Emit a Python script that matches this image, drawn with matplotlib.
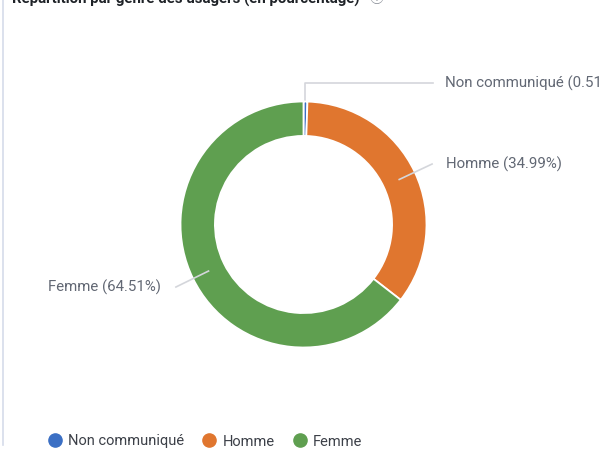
import numpy as np
import matplotlib.pyplot as plt
from matplotlib.lines import Line2D

plt.rcParams["font.family"] = ["Roboto", "DejaVu Sans"]

TITLE = "Répartition par genre des usagers (en pourcentage)"
labels = ["Non communiqué", "Homme", "Femme"]
shares = [0.51, 34.99, 64.51]
colors = ["#3b6fc4", "#e0762f", "#5f9f50"]

LABEL_FG = "#626874"
LEGEND_FG = "#3c4048"
LEADER = "#d4d6db"

W, H = 601, 450
fig = plt.figure(figsize=(W / 100, H / 100), dpi=100, facecolor="white")

# donut axes: centre (303.5, 224.5) px, radius 123 px
cx, cy, r = 303.5, 224.5, 123
ax = fig.add_axes([(cx - r) / W, (H - cy - r) / H, 2 * r / W, 2 * r / H])

wedges, _ = ax.pie(shares, colors=colors, startangle=90, counterclock=False,
                   radius=1, wedgeprops=dict(width=0.28, edgecolor="white", linewidth=1.3))
ax.set_xlim(-1, 1)
ax.set_ylim(-1, 1)
ax.set_aspect("equal")
ax.axis("off")

for w, lab, val in zip(wedges, labels, shares):
    mid = np.deg2rad((w.theta1 + w.theta2) / 2)
    ux, uy = np.cos(mid), np.sin(mid)
    txt = f"{lab} ({val:.2f}%)"
    if val < 2:
        # tiny slice: vertical leader then horizontal
        x0, y0 = ux * 0.86, uy * 0.86
        ytop = 1.15
        ax.plot([x0, x0, 1.05], [y0, ytop, ytop], color=LEADER, lw=1.2, clip_on=False, zorder=0)
        ax.text(1.15, ytop, txt, color=LABEL_FG, fontsize=10.8, va="center", ha="left", clip_on=False)
    else:
        r0, r1 = 0.86, 1.155
        ax.plot([ux * r0, ux * r1], [uy * r0, uy * r1], color=LEADER, lw=1.2, clip_on=False, zorder=3)
        ha = "left" if ux > 0 else "right"
        off = 0.11 if ux > 0 else -0.12
        ax.text(ux * r1 + off, uy * r1, txt, color=LABEL_FG, fontsize=10.8, va="center", ha=ha, clip_on=False)

fig.text(12 / W, 1 - 3.5 / H, TITLE, fontsize=10.8, fontweight="bold", color="#1f2328", va="baseline")
fig.text(370 / W, 1 - 3.5 / H, "ⓘ", fontsize=10, color="#8a8f98", va="baseline",
         family=["Noto Sans CJK SC", "DejaVu Sans"])

fig.add_artist(Line2D([2.5 / W, 2.5 / W], [1, 1 - 445 / H], transform=fig.transFigure,
                      color="#d6dcea", lw=1.2))

handles = [Line2D([0], [0], marker="o", linestyle="", markersize=9.5,
                  markerfacecolor=c, markeredgecolor=c) for c in colors]
fig.legend(handles, labels, loc="center left", bbox_to_anchor=(39 / W, 1 - 441.5 / H),
           ncol=3, frameon=False, fontsize=10.5, labelcolor=LEGEND_FG,
           handletextpad=0.3, columnspacing=1.12, handlelength=1.2, borderpad=0)

fig.savefig("out.png", dpi=100, facecolor="white")
